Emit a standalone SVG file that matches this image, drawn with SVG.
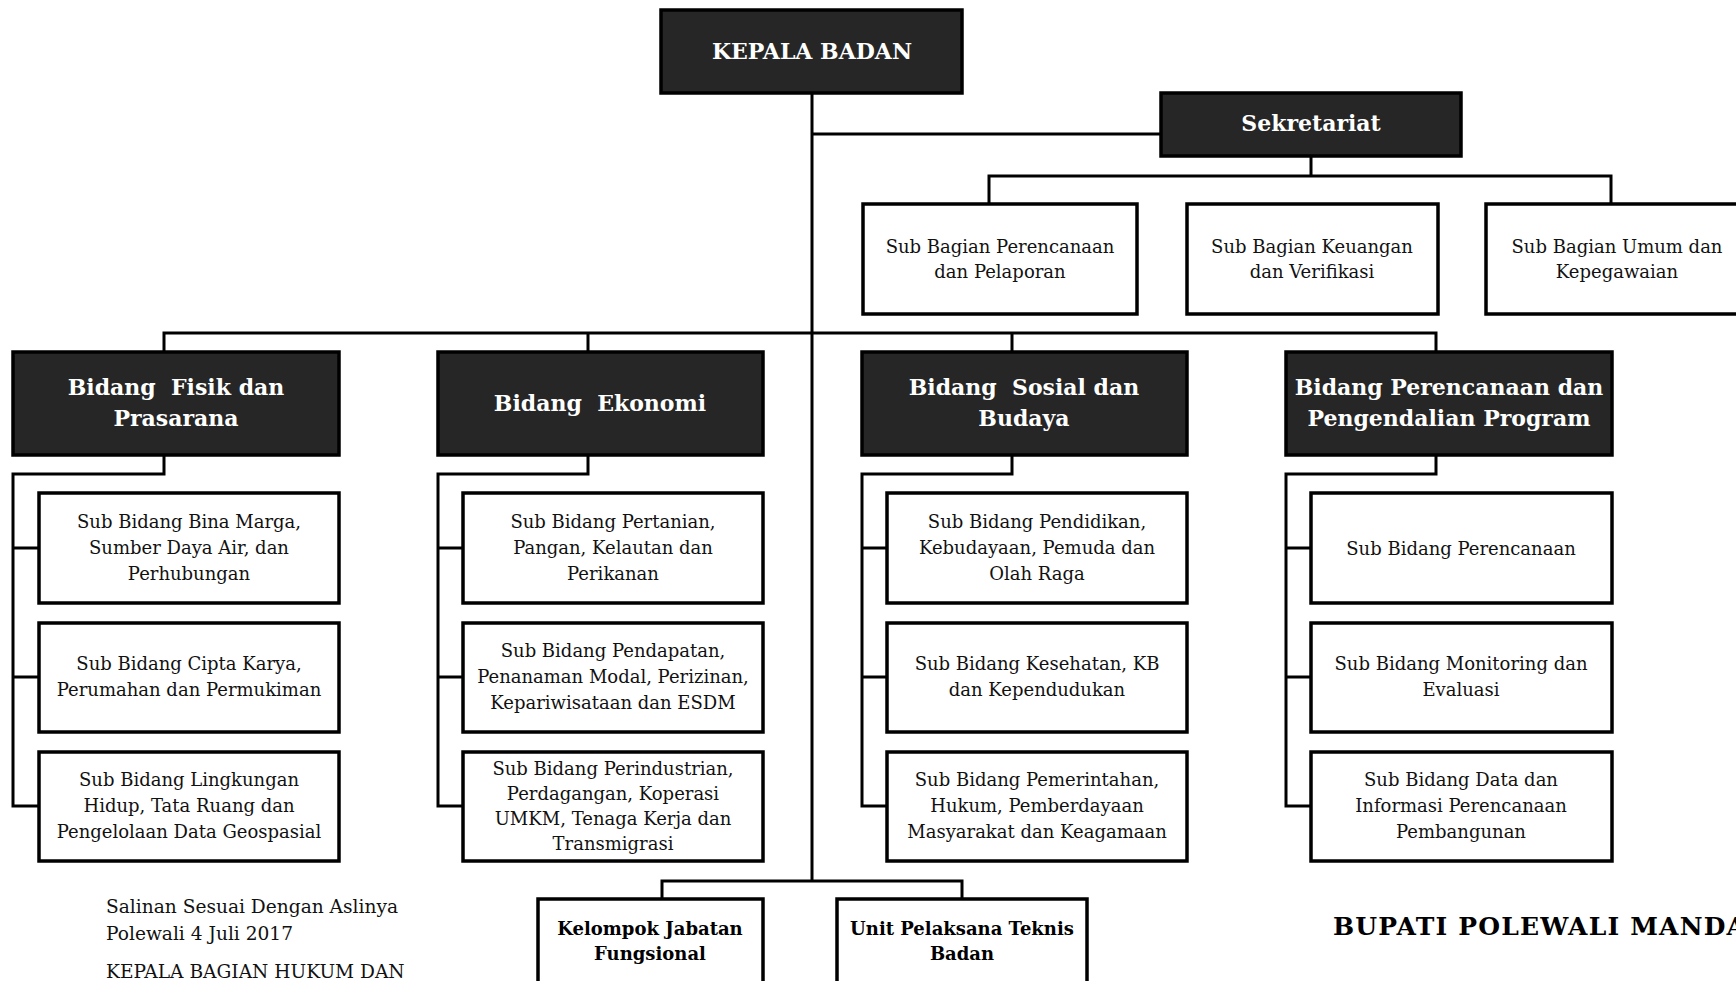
<svg xmlns="http://www.w3.org/2000/svg" width="1736" height="981" viewBox="0 0 1736 981">
<style>
.dark{fill:#262626;stroke:#000;stroke-width:3.5}
.box{fill:#fff;stroke:#000;stroke-width:3.5}
.ln{fill:none;stroke:#000;stroke-width:3}
.ht{font-family:"DejaVu Serif","Liberation Serif",serif;font-weight:bold;font-size:22px;fill:#fff;text-anchor:middle}
.bt{font-family:"DejaVu Serif","Liberation Serif",serif;font-weight:bold;font-size:18px;fill:#000;text-anchor:middle}
.st{font-family:"DejaVu Serif","Liberation Serif",serif;font-size:18px;fill:#111;text-anchor:middle}
.ft{font-family:"DejaVu Serif","Liberation Serif",serif;font-size:18.6px;fill:#111}
.fb{font-family:"DejaVu Serif","Liberation Serif",serif;font-weight:bold;font-size:25px;letter-spacing:1.2px;fill:#000}
</style>
<rect width="1736" height="981" fill="#fff"/>
<g id="connectors">
<path class="ln" d="M812 93 V881"/>
<path class="ln" d="M812 134 H1161"/>
<path class="ln" d="M1311 156 V176 M989 204 V176 H1611 V204"/>
<path class="ln" d="M164 352 V333 H1436 V352 M588 333 V352 M1012 333 V352"/>
<path class="ln" d="M164 455 V474 H13 V806 H39 M13 548 H39 M13 677 H39"/>
<path class="ln" d="M588 455 V474 H438 V806 H463 M438 548 H463 M438 677 H463"/>
<path class="ln" d="M1012 455 V474 H862 V806 H887 M862 548 H887 M862 677 H887"/>
<path class="ln" d="M1436 455 V474 H1286 V806 H1311 M1286 548 H1311 M1286 677 H1311"/>
<path class="ln" d="M662 899 V881 H962 V899"/>
</g>
<g id="kepala"><rect class="dark" x="661" y="10" width="301" height="83"/><text class="ht" x="812" y="59">KEPALA BADAN</text></g>
<g id="sekretariat"><rect class="dark" x="1161" y="93" width="300" height="63"/><text class="ht" x="1311" y="131">Sekretariat</text></g>
<g id="sb1"><rect class="box" x="863" y="204" width="274" height="110"/><text class="st" x="1000" y="253">Sub Bagian Perencanaan</text><text class="st" x="1000" y="278">dan Pelaporan</text></g>
<g id="sb2"><rect class="box" x="1187" y="204" width="251" height="110"/><text class="st" x="1312" y="253">Sub Bagian Keuangan</text><text class="st" x="1312" y="278">dan Verifikasi</text></g>
<g id="sb3"><rect class="box" x="1486" y="204" width="270" height="110"/><text class="st" x="1617" y="253">Sub Bagian Umum dan</text><text class="st" x="1617" y="278">Kepegawaian</text></g>

<g id="b1"><rect class="dark" x="13" y="352" width="326" height="103"/><text class="ht" x="176" y="395" xml:space="preserve">Bidang  Fisik dan</text><text class="ht" x="176" y="426">Prasarana</text></g>
<g id="b2"><rect class="dark" x="438" y="352" width="325" height="103"/><text class="ht" x="600" y="411" xml:space="preserve">Bidang  Ekonomi</text></g>
<g id="b3"><rect class="dark" x="862" y="352" width="325" height="103"/><text class="ht" x="1024" y="395" xml:space="preserve">Bidang  Sosial dan</text><text class="ht" x="1024" y="426">Budaya</text></g>
<g id="b4"><rect class="dark" x="1286" y="352" width="326" height="103"/><text class="ht" x="1449" y="395">Bidang Perencanaan dan</text><text class="ht" x="1449" y="426">Pengendalian Program</text></g>

<g id="s11"><rect class="box" x="39" y="493" width="300" height="110"/><text class="st" x="189" y="528">Sub Bidang Bina Marga,</text><text class="st" x="189" y="554">Sumber Daya Air, dan</text><text class="st" x="189" y="580">Perhubungan</text></g>
<g id="s12"><rect class="box" x="39" y="623" width="300" height="109"/><text class="st" x="189" y="670">Sub Bidang Cipta Karya,</text><text class="st" x="189" y="696">Perumahan dan Permukiman</text></g>
<g id="s13"><rect class="box" x="39" y="752" width="300" height="109"/><text class="st" x="189" y="786">Sub Bidang Lingkungan</text><text class="st" x="189" y="812">Hidup, Tata Ruang dan</text><text class="st" x="189" y="838">Pengelolaan Data Geospasial</text></g>

<g id="s21"><rect class="box" x="463" y="493" width="300" height="110"/><text class="st" x="613" y="528">Sub Bidang Pertanian,</text><text class="st" x="613" y="554">Pangan, Kelautan dan</text><text class="st" x="613" y="580">Perikanan</text></g>
<g id="s22"><rect class="box" x="463" y="623" width="300" height="109"/><text class="st" x="613" y="657">Sub Bidang Pendapatan,</text><text class="st" x="613" y="683">Penanaman Modal, Perizinan,</text><text class="st" x="613" y="709">Kepariwisataan dan ESDM</text></g>
<g id="s23"><rect class="box" x="463" y="752" width="300" height="109"/><text class="st" x="613" y="775">Sub Bidang Perindustrian,</text><text class="st" x="613" y="800">Perdagangan, Koperasi</text><text class="st" x="613" y="825">UMKM, Tenaga Kerja dan</text><text class="st" x="613" y="850">Transmigrasi</text></g>

<g id="s31"><rect class="box" x="887" y="493" width="300" height="110"/><text class="st" x="1037" y="528">Sub Bidang Pendidikan,</text><text class="st" x="1037" y="554">Kebudayaan, Pemuda dan</text><text class="st" x="1037" y="580">Olah Raga</text></g>
<g id="s32"><rect class="box" x="887" y="623" width="300" height="109"/><text class="st" x="1037" y="670">Sub Bidang Kesehatan, KB</text><text class="st" x="1037" y="696">dan Kependudukan</text></g>
<g id="s33"><rect class="box" x="887" y="752" width="300" height="109"/><text class="st" x="1037" y="786">Sub Bidang Pemerintahan,</text><text class="st" x="1037" y="812">Hukum, Pemberdayaan</text><text class="st" x="1037" y="838">Masyarakat dan Keagamaan</text></g>

<g id="s41"><rect class="box" x="1311" y="493" width="301" height="110"/><text class="st" x="1461" y="555">Sub Bidang Perencanaan</text></g>
<g id="s42"><rect class="box" x="1311" y="623" width="301" height="109"/><text class="st" x="1461" y="670">Sub Bidang Monitoring dan</text><text class="st" x="1461" y="696">Evaluasi</text></g>
<g id="s43"><rect class="box" x="1311" y="752" width="301" height="109"/><text class="st" x="1461" y="786">Sub Bidang Data dan</text><text class="st" x="1461" y="812">Informasi Perencanaan</text><text class="st" x="1461" y="838">Pembangunan</text></g>

<g id="kjf"><rect class="box" x="538" y="899" width="225" height="100"/><text class="bt" x="650" y="935">Kelompok Jabatan</text><text class="bt" x="650" y="960">Fungsional</text></g>
<g id="upt"><rect class="box" x="837" y="899" width="250" height="100"/><text class="bt" x="962" y="935">Unit Pelaksana Teknis</text><text class="bt" x="962" y="960">Badan</text></g>

<g id="footer">
<text class="ft" x="106" y="913">Salinan Sesuai Dengan Aslinya</text>
<text class="ft" x="106" y="940">Polewali 4 Juli 2017</text>
<text class="ft" x="106" y="978">KEPALA BAGIAN HUKUM DAN</text>
<text class="fb" x="1333" y="935">BUPATI POLEWALI MANDAR</text>
</g>
</svg>
